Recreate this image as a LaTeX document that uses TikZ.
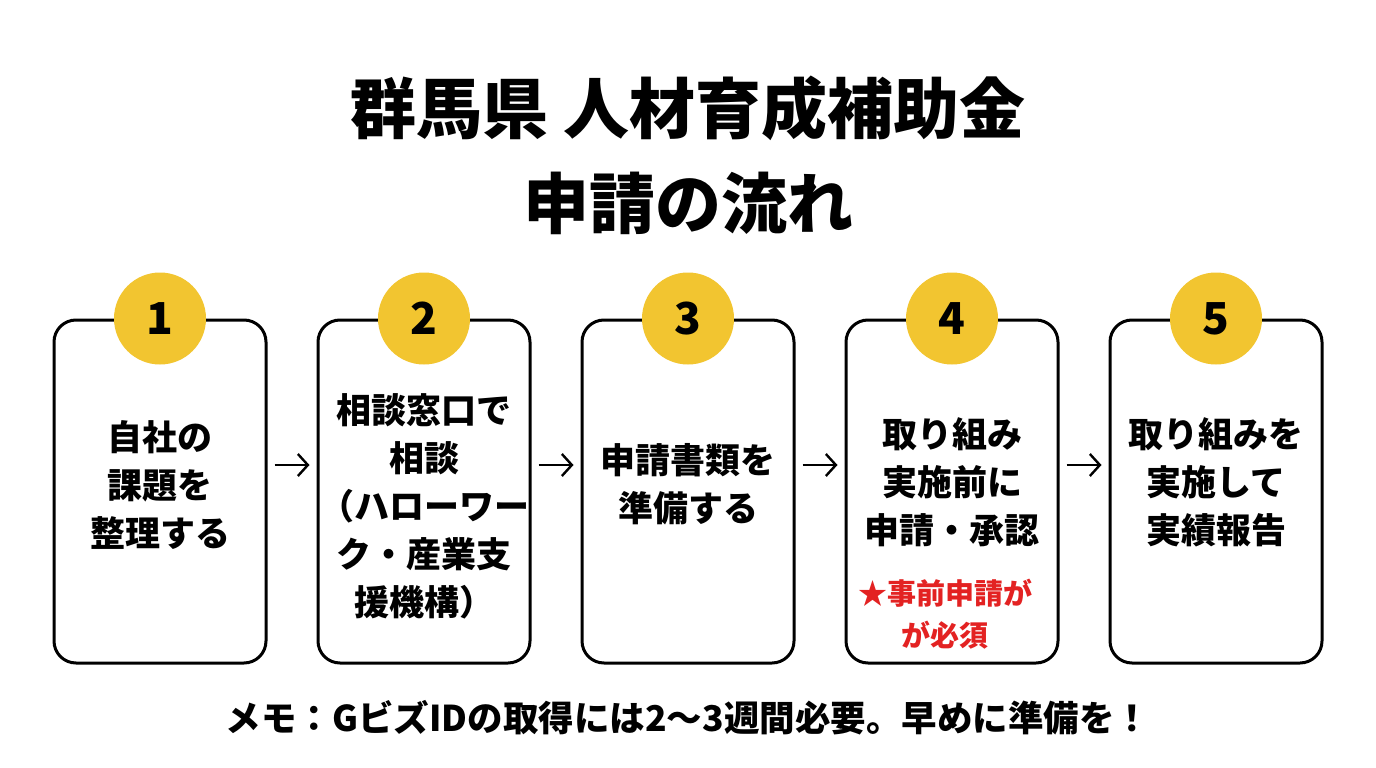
\documentclass[tikz,border=0pt]{standalone}
\usepackage{fontspec}
\setmainfont{Noto Sans CJK JP}
\usetikzlibrary{arrows.meta}
\definecolor{dotyellow}{HTML}{F2C530}
\definecolor{notered}{HTML}{E32222}
\tikzset{
  stepbox/.style={draw=black,line width=3pt,rounded corners=22pt,
    minimum width=212pt,minimum height=343pt,fill=white},
  numdot/.style={circle,fill=dotyellow,minimum size=92pt,inner sep=0pt,
    font=\fontsize{44}{44}\selectfont\bfseries},
  steptext/.style={align=center,font=\fontsize{35}{48}\selectfont\bfseries},
  flow/.style={-{Straight Barb[length=10pt,width=22pt,line width=2.4pt]},line width=2.4pt,
    shorten <=7pt,shorten >=7pt}
}
\begin{document}
\begin{tikzpicture}[x=1pt,y=-1pt]
  \useasboundingbox (0,0) rectangle (1376,768);
  % Title
  \node[align=center,font=\fontsize{66}{95}\selectfont\bfseries] (title) at (688,155)
    {群馬県 人材育成補助金\\申請の流れ};
  % Boxes
  \node[stepbox] (s1) at (160,491.5) {};
  \node[stepbox] (s2) at (424,491.5) {};
  \node[stepbox] (s3) at (688,491.5) {};
  \node[stepbox] (s4) at (952,491.5) {};
  \node[stepbox] (s5) at (1216,491.5) {};
  % Numbers
  \node[numdot] (n1) at (s1.north) {1};
  \node[numdot] (n2) at (s2.north) {2};
  \node[numdot] (n3) at (s3.north) {3};
  \node[numdot] (n4) at (s4.north) {4};
  \node[numdot] (n5) at (s5.north) {5};
  % Texts
  \node[steptext] (t1) at (160,485) {自社の\\課題を\\整理する};
  \node[steptext] (t2) at (424,506) {相談窓口で\\相談\\（ハローワー\\ク・産業支\\援機構）};
  \node[steptext] (t3) at (688,484) {申請書類を\\準備する};
  \node[steptext] (t4) at (952,482) {取り組み\\実施前に\\申請・承認};
  \node[align=center,text=notered,font=\fontsize{29}{42}\selectfont\bfseries] (w4)
    at (945,614) {★事前申請が\\が必須};
  \node[steptext] (t5) at (1216,482) {取り組みを\\実施して\\実績報告};
  % Arrows
  \draw[flow] (s1.east |- 0,465) -- (s2.west |- 0,465);
  \draw[flow] (s2.east |- 0,465) -- (s3.west |- 0,465);
  \draw[flow] (s3.east |- 0,465) -- (s4.west |- 0,465);
  \draw[flow] (s4.east |- 0,465) -- (s5.west |- 0,465);
  % Memo
  \node[font=\fontsize{35.5}{36}\selectfont\bfseries] (memo) at (688,718)
    {メモ：GビズIDの取得には2〜3週間必要。早めに準備を！};
\end{tikzpicture}
\end{document}
